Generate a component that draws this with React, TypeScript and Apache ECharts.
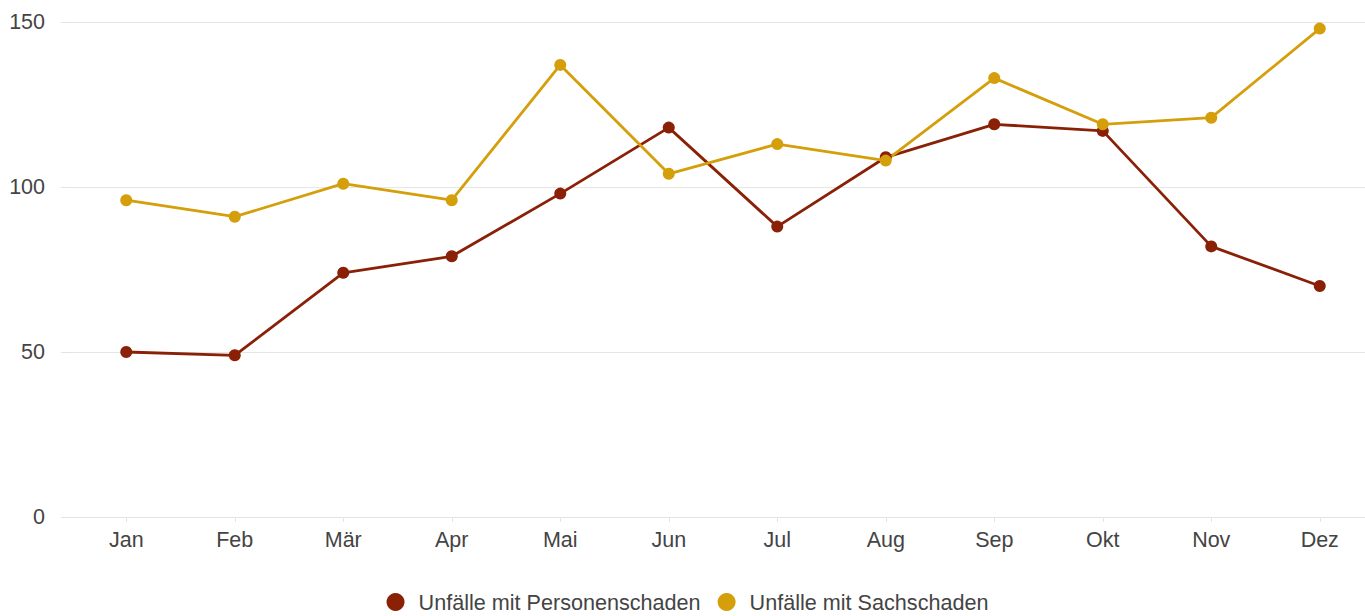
import React, { useEffect, useRef } from "react";
import * as echarts from "echarts";

const categories = ["Jan", "Feb", "Mär", "Apr", "Mai", "Jun", "Jul", "Aug", "Sep", "Okt", "Nov", "Dez"];
const personenschaden = [50, 49, 74, 79, 98, 118, 88, 109, 119, 117, 82, 70];
const sachschaden = [96, 91, 101, 96, 137, 104, 113, 108, 133, 119, 121, 148];
const seriesNames = ["Unfälle mit Personenschaden", "Unfälle mit Sachschaden"];
const colors = ["#8a2107", "#d49f0a"];

export default function App() {
  const ref = useRef<HTMLDivElement>(null);
  useEffect(() => {
    document.body.style.margin = "0";
    document.body.style.overflow = "hidden";
    const chart = echarts.init(ref.current!, null, { renderer: "svg" });
    const font = "'Liberation Sans', Arial, sans-serif";
    chart.setOption({
      animation: false,
      color: colors,
      textStyle: { fontFamily: font },
      grid: { left: 72, right: 1, top: 22, bottom: 99, containLabel: false },
      legend: {
        top: 591,
        left: "center",
        padding: 0,
        icon: "circle",
        itemWidth: 18,
        itemHeight: 18,
        itemGap: 17,
        textStyle: { fontSize: 21.6, lineHeight: 20, color: "#444", fontFamily: font, padding: [0, 0, 0, 9] },
        data: seriesNames,
      },
      xAxis: {
        type: "category",
        data: categories,
        boundaryGap: true,
        axisLine: { show: true, lineStyle: { color: "#e3e3e3", width: 1 } },
        axisTick: { show: true, alignWithLabel: true, length: 5, lineStyle: { color: "#e3e3e3" } },
        axisLabel: { color: "#444", fontSize: 21.5, margin: 12, fontFamily: font },
      },
      yAxis: {
        type: "value",
        min: 0,
        max: 150,
        interval: 50,
        axisLine: { show: false },
        axisTick: { show: true, length: 11, lineStyle: { color: "#e3e3e3" } },
        splitLine: { show: true, lineStyle: { color: "#e6e6e6", width: 1 } },
        axisLabel: { color: "#444", fontSize: 21.5, margin: 27, fontFamily: font },
      },
      series: [
        {
          name: seriesNames[0],
          type: "line",
          data: personenschaden,
          symbol: "circle",
          symbolSize: 12,
          lineStyle: { width: 2.8, color: colors[0] },
          itemStyle: { color: colors[0] },
        },
        {
          name: seriesNames[1],
          type: "line",
          data: sachschaden,
          symbol: "circle",
          symbolSize: 12,
          lineStyle: { width: 2.8, color: colors[1] },
          itemStyle: { color: colors[1] },
        },
      ],
    });
    return () => chart.dispose();
  }, []);
  return <div ref={ref} style={{ width: 1375, height: 616 }} />;
}
